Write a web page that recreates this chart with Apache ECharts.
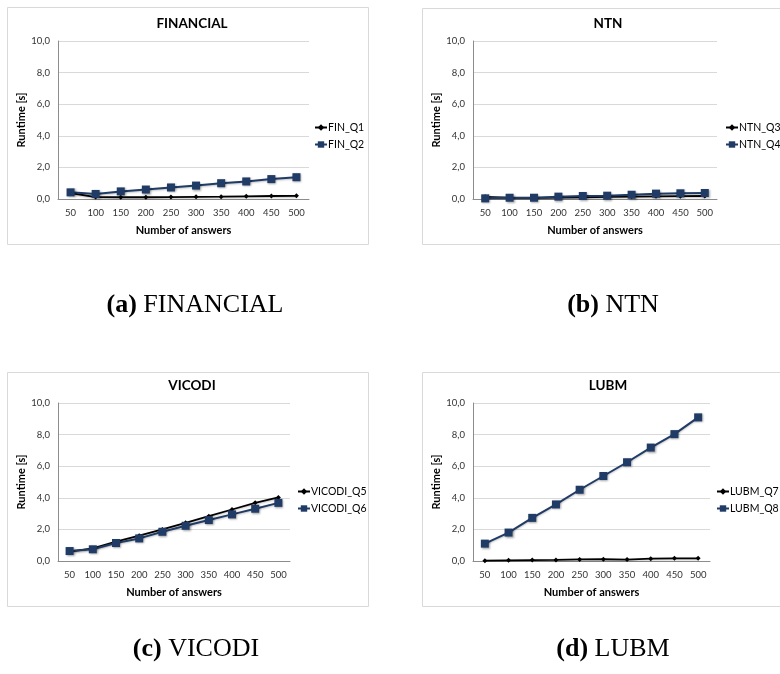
<!DOCTYPE html>
<html>
<head>
<meta charset="utf-8">
<script src="https://cdn.jsdelivr.net/npm/echarts@6/dist/echarts.min.js"></script>
<style>
  html, body { margin: 0; padding: 0; background: #ffffff; }
  #chart { width: 780px; height: 674px; }
</style>
</head>
<body>
<div id="chart"></div>
<script>
// Number of answers on the x axis
const answers = ['50', '100', '150', '200', '250', '300', '350', '400', '450', '500'];
// Runtime in seconds per query
const finQ1 = [0.38, 0.12, 0.11, 0.11, 0.12, 0.14, 0.15, 0.17, 0.19, 0.20];
const finQ2 = [0.42, 0.32, 0.48, 0.60, 0.73, 0.85, 1.00, 1.11, 1.26, 1.38];
const ntnQ3 = [0.14, 0.08, 0.07, 0.09, 0.11, 0.13, 0.15, 0.17, 0.18, 0.19];
const ntnQ4 = [0.04, 0.08, 0.08, 0.15, 0.19, 0.21, 0.27, 0.34, 0.36, 0.38];
const vicodiQ5 = [0.60, 0.80, 1.22, 1.60, 2.00, 2.42, 2.84, 3.26, 3.68, 4.02];
const vicodiQ6 = [0.63, 0.74, 1.14, 1.43, 1.85, 2.23, 2.59, 2.95, 3.31, 3.68];
const lubmQ7 = [0.02, 0.04, 0.06, 0.07, 0.10, 0.11, 0.09, 0.15, 0.17, 0.17];
const lubmQ8 = [1.10, 1.80, 2.73, 3.58, 4.51, 5.38, 6.25, 7.18, 8.03, 9.09];
// Y axis ticks
const yTicks = { min: 0, max: 10, step: 2 };

const panels = [
  { title: 'FINANCIAL', tag: '(a)', names: ['FIN_Q1', 'FIN_Q2'], data: [finQ1, finQ2],
    grid: { left: 58, top: 41, width: 251, height: 158 }, box: [7, 7, 361, 237],
    legend: { left: 314, top: 122 }, cx: 187, caption: { x: 190, y: 300 } },
  { title: 'NTN', tag: '(b)', names: ['NTN_Q3', 'NTN_Q4'], data: [ntnQ3, ntnQ4],
    grid: { left: 473, top: 41, width: 244, height: 158 }, box: [422, 8, 370, 236],
    legend: { left: 725, top: 122 }, cx: 603, caption: { x: 608, y: 300 } },
  { title: 'VICODI', tag: '(c)', names: ['VICODI_Q5', 'VICODI_Q6'], data: [vicodiQ5, vicodiQ6],
    grid: { left: 58, top: 403, width: 232, height: 158 }, box: [7, 372, 361, 234],
    legend: { left: 297, top: 486 }, cx: 187, caption: { x: 191, y: 644 } },
  { title: 'LUBM', tag: '(d)', names: ['LUBM_Q7', 'LUBM_Q8'], data: [lubmQ7, lubmQ8],
    grid: { left: 473, top: 403, width: 237, height: 158 }, box: [422, 372, 370, 234],
    legend: { left: 716, top: 486 }, cx: 603, caption: { x: 608, y: 644 } }
];

const sansFont = 'Lato, "Open Sans", sans-serif';
const serifFont = '"Liberation Serif", "DejaVu Serif", serif';
const blue = '#1f3b66';
const black = '#000000';

const option = {
  animation: false,
  backgroundColor: '#ffffff',
  grid: [], xAxis: [], yAxis: [], series: [], legend: [], title: [], graphic: []
};

panels.forEach((p, i) => {
  option.grid.push(Object.assign({ containLabel: false }, p.grid));
  option.xAxis.push({
    type: 'category', gridIndex: i, data: answers, boundaryGap: true,
    axisLine: { lineStyle: { color: '#8c8c8c', width: 1 } },
    axisTick: { show: false },
    axisLabel: { fontFamily: sansFont, fontSize: 9.5, color: '#333333', margin: 9, interval: 0 },
    name: 'Number of answers', nameLocation: 'middle', nameGap: 26,
    nameTextStyle: { fontFamily: sansFont, fontSize: 11, fontWeight: 'bold', color: '#000' }
  });
  option.yAxis.push({
    type: 'value', gridIndex: i, min: yTicks.min, max: yTicks.max, interval: yTicks.step,
    axisLine: { show: true, lineStyle: { color: '#8c8c8c', width: 1 } },
    axisTick: { show: false },
    splitLine: { lineStyle: { color: '#d9d9d9', width: 1 } },
    axisLabel: { fontFamily: sansFont, fontSize: 9.5, color: '#333333', margin: 8,
      formatter: v => v.toFixed(1).replace('.', ',') },
    name: 'Runtime [s]', nameLocation: 'middle', nameGap: 31,
    nameTextStyle: { fontFamily: sansFont, fontSize: 11, fontWeight: 'bold', color: '#000' }
  });
  option.series.push({
    type: 'line', name: p.names[0], xAxisIndex: i, yAxisIndex: i, data: p.data[0],
    symbol: 'diamond', symbolSize: 5, z: 3,
    lineStyle: { color: black, width: 1.8, shadowColor: 'rgba(0,0,0,0.25)', shadowBlur: 2, shadowOffsetY: 1 },
    itemStyle: { color: black }
  });
  option.series.push({
    type: 'line', name: p.names[1], xAxisIndex: i, yAxisIndex: i, data: p.data[1],
    symbol: 'rect', symbolSize: 8, z: 4,
    lineStyle: { color: blue, width: 2, shadowColor: 'rgba(0,0,0,0.25)', shadowBlur: 2, shadowOffsetY: 1 },
    itemStyle: { color: blue, shadowColor: 'rgba(0,0,0,0.35)', shadowBlur: 2, shadowOffsetX: 1, shadowOffsetY: 1 }
  });
  option.legend.push({
    data: p.names, orient: 'vertical', left: p.legend.left, top: p.legend.top,
    itemWidth: 12, itemHeight: 8, itemGap: 6, padding: 0,
    textStyle: { fontFamily: sansFont, fontSize: 10.5, color: '#000', padding: [0, 0, 0, -4] }
  });
  option.title.push({
    text: p.title, left: p.cx, top: p.grid.top - 29, textAlign: 'center',
    textStyle: { fontFamily: sansFont, fontSize: 13.5, fontWeight: 'bold', color: '#000' }
  });
  option.title.push({
    text: '{t|' + p.tag + '} {n|' + p.title + '}',
    left: p.caption.x, top: p.caption.y - 13, textAlign: 'center',
    textStyle: {
      fontFamily: serifFont, fontSize: 26, fontWeight: 'normal', color: '#000',
      rich: {
        t: { fontFamily: serifFont, fontSize: 26, fontWeight: 'bold', color: '#000' },
        n: { fontFamily: serifFont, fontSize: 26, fontWeight: 'normal', color: '#000' }
      }
    }
  });
  option.graphic.push({
    type: 'rect', z: -1, silent: true,
    shape: { x: p.box[0] + 0.5, y: p.box[1] + 0.5, width: p.box[2], height: p.box[3] },
    style: { fill: 'none', stroke: '#d9d9d9', lineWidth: 1 }
  });
});

const chart = echarts.init(document.getElementById('chart'), null, { renderer: 'canvas' });
chart.setOption(option);
</script>
</body>
</html>
